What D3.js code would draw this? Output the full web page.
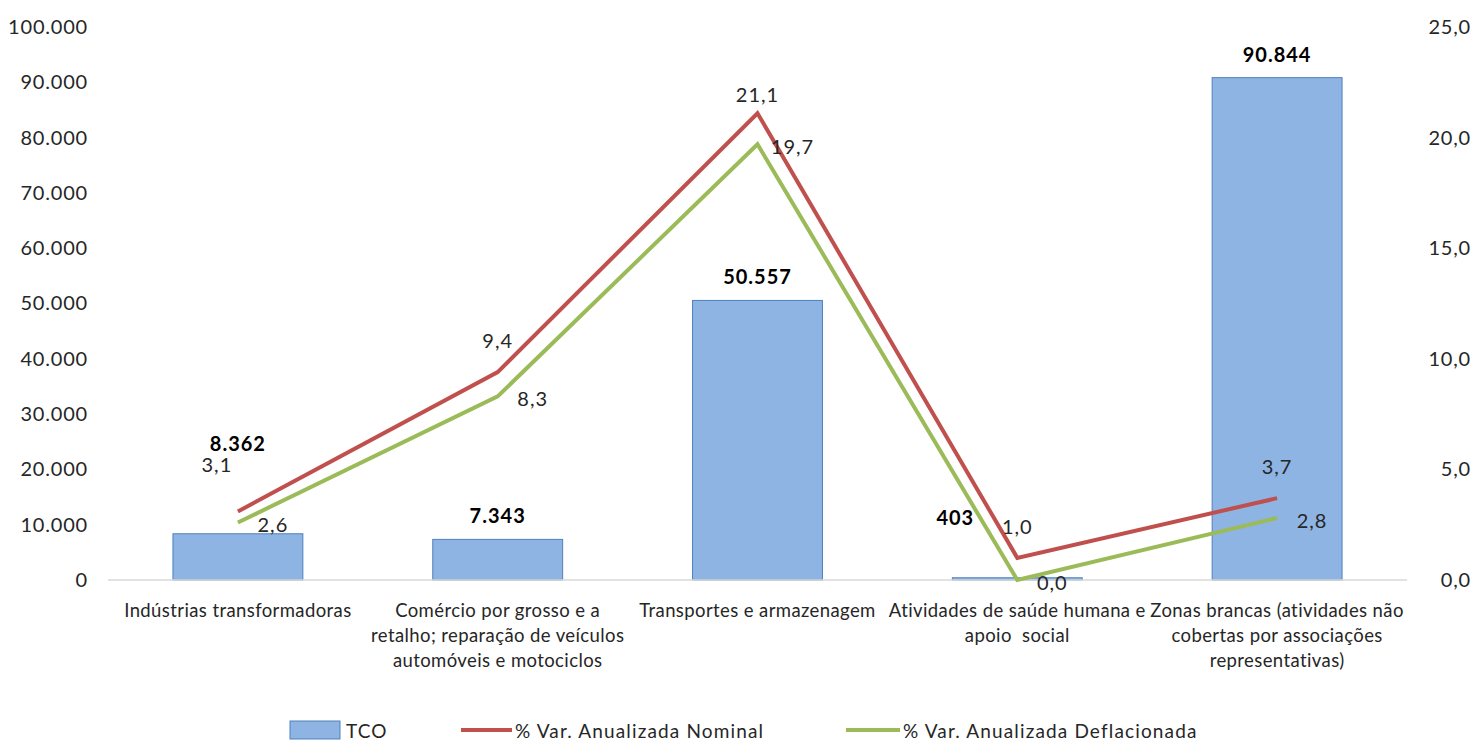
<!DOCTYPE html>
<html>
<head>
<meta charset="utf-8">
<script src="https://cdn.jsdelivr.net/npm/d3@7"></script>
<style>
  body { margin: 0; background: #fff; }
  svg text { font-family: Lato, "Noto Sans", sans-serif; fill: #262626; white-space: pre; }
</style>
</head>
<body>
<svg id="chart" width="1475" height="742"></svg>
<script>
// categories (lines of each axis label)
const categories = [
  ["Indústrias transformadoras"],
  ["Comércio por grosso e a", "retalho; reparação de veículos", "automóveis e motociclos"],
  ["Transportes e armazenagem"],
  ["Atividades de saúde humana e", "apoio  social"],
  ["Zonas brancas (atividades não", "cobertas por associações", "representativas)"]
];
const tco = [8362, 7343, 50557, 403, 90844];
const nominal = [3.1, 9.4, 21.1, 1.0, 3.7];
const deflacionada = [2.6, 8.3, 19.7, 0.0, 2.8];
const leftTicks = [0, 10000, 20000, 30000, 40000, 50000, 60000, 70000, 80000, 90000, 100000];
const rightTicks = [0, 5, 10, 15, 20, 25];
const seriesNames = ["TCO", "% Var. Anualizada Nominal", "% Var. Anualizada Deflacionada"];

const pt = d3.formatLocale({ decimal: ",", thousands: ".", grouping: [3], currency: ["", "€"] });
const fmtInt = pt.format(",.0f");
const fmtDec = pt.format(".1f");

const svg = d3.select("#chart");
const plotLeft = 108, plotRight = 1407, plotTop = 27, plotBottom = 580;

const x = d3.scaleBand().domain(d3.range(categories.length)).range([plotLeft, plotRight]).padding(0);
const yL = d3.scaleLinear().domain([0, 100000]).range([plotBottom, plotTop]);
const yR = d3.scaleLinear().domain([0, 25]).range([plotBottom, plotTop]);
const cx = i => x(i) + x.bandwidth() / 2;
const barW = x.bandwidth() * 0.5;

// axes
const axL = svg.append("g").attr("transform", `translate(${plotLeft - 20},0)`)
  .call(d3.axisLeft(yL).tickValues(leftTicks).tickFormat(fmtInt).tickSize(0).tickPadding(0));
const axR = svg.append("g").attr("transform", `translate(${plotRight + 64},0)`)
  .call(d3.axisLeft(yR).tickValues(rightTicks).tickFormat(fmtDec).tickSize(0).tickPadding(0));
[axL, axR].forEach(a => {
  a.select(".domain").remove();
  a.selectAll("text").attr("font-size", 20).attr("letter-spacing", 0.8).attr("fill", "#262626");
});

// bars
svg.append("g").selectAll("rect").data(tco).join("rect")
  .attr("x", (d, i) => cx(i) - barW / 2)
  .attr("y", d => yL(d))
  .attr("width", barW)
  .attr("height", d => plotBottom - yL(d))
  .attr("fill", "#8EB4E3")
  .attr("stroke", "#4F81BD")
  .attr("stroke-width", 1);

// baseline
svg.append("line").attr("x1", plotLeft).attr("x2", plotRight).attr("y1", plotBottom).attr("y2", plotBottom)
  .attr("stroke", "#d9d9d9").attr("stroke-width", 1.5);

// lines
const line = d3.line().x((d, i) => cx(i)).y(d => yR(d));
svg.append("path").datum(nominal).attr("d", line)
  .attr("fill", "none").attr("stroke", "#C0504D").attr("stroke-width", 4);
svg.append("path").datum(deflacionada).attr("d", line)
  .attr("fill", "none").attr("stroke", "#9BBB59").attr("stroke-width", 4);

// bar labels (some moved by hand in the original)
const barNudge = { 0: [0, -67], 3: [-62, -37] };
svg.append("g").selectAll("text").data(tco).join("text")
  .attr("x", (d, i) => cx(i) + (barNudge[i] ? barNudge[i][0] : 0))
  .attr("y", (d, i) => yL(d) - 24 + (barNudge[i] ? barNudge[i][1] : 0))
  .attr("text-anchor", "middle").attr("dominant-baseline", "central")
  .attr("font-size", 20).attr("letter-spacing", 1).attr("font-weight", "bold").style("fill", "#000")
  .text(d => fmtInt(d));

// line labels
const nomNudge = { 0: [-21, -47], 2: [0, -19] };
svg.append("g").selectAll("text").data(nominal).join("text")
  .attr("x", (d, i) => cx(i) + (nomNudge[i] ? nomNudge[i][0] : 0))
  .attr("y", (d, i) => yR(d) + (nomNudge[i] ? nomNudge[i][1] : -32))
  .attr("text-anchor", "middle").attr("dominant-baseline", "central")
  .attr("font-size", 20).attr("letter-spacing", 1).text(d => fmtDec(d));
svg.append("g").selectAll("text").data(deflacionada).join("text")
  .attr("x", (d, i) => cx(i) + 35)
  .attr("y", d => yR(d) + 2)
  .attr("text-anchor", "middle").attr("dominant-baseline", "central")
  .attr("font-size", 20).attr("letter-spacing", 1).text(d => fmtDec(d));

// category labels
const cat = svg.append("g").selectAll("text").data(categories).join("text")
  .attr("x", (d, i) => cx(i)).attr("y", 610)
  .attr("text-anchor", "middle").attr("font-size", 18.5).attr("letter-spacing", 0.4);
cat.selectAll("tspan").data(d => d).join("tspan")
  .attr("x", function () { return this.parentNode.getAttribute("x"); })
  .attr("y", (d, j) => 610 + j * 25)
  .attr("dominant-baseline", "central")
  .text(d => d);

// legend
const lg = svg.append("g");
const legX = [290, 461, 846];
const legY = 730;
lg.append("rect").attr("x", legX[0]).attr("y", legY - 9).attr("width", 50).attr("height", 18)
  .attr("fill", "#8EB4E3").attr("stroke", "#4F81BD");
lg.append("line").attr("x1", legX[1]).attr("x2", legX[1] + 51).attr("y1", legY).attr("y2", legY)
  .attr("stroke", "#C0504D").attr("stroke-width", 4);
lg.append("line").attr("x1", legX[2]).attr("x2", legX[2] + 54).attr("y1", legY).attr("y2", legY)
  .attr("stroke", "#9BBB59").attr("stroke-width", 4);
lg.selectAll("text").data(seriesNames).join("text")
  .attr("x", (d, i) => [346, 515, 903][i]).attr("y", legY)
  .attr("dominant-baseline", "central").attr("font-size", 19).attr("letter-spacing", 1.15)
  .text(d => d);
</script>
</body>
</html>
